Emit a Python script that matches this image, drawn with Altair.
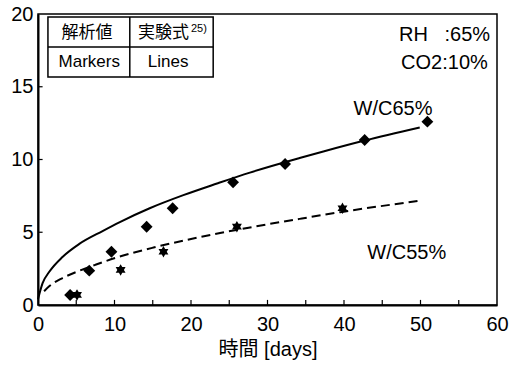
import altair as alt
import pandas as pd

# ---- data ----
# analysis values (markers)
wc65_days = [4.2, 6.7, 9.6, 14.2, 17.6, 25.5, 32.3, 42.7, 50.9]
wc65_vals = [0.69, 2.36, 3.66, 5.38, 6.65, 8.43, 9.69, 11.34, 12.6]
wc55_days = [5.1, 10.8, 16.4, 26.0, 39.8]
wc55_vals = [0.69, 2.41, 3.66, 5.38, 6.65]

# experimental formula (lines)
curve65_days = [0, 0.6, 1.5, 3.2, 5.4, 8.5, 10.7, 14.6, 19.0, 23.4, 27.7, 34.2, 37.3, 42.7, 49.9]
curve65_vals = [0.4, 1.5, 2.3, 3.3, 4.2, 5.1, 5.7, 6.65, 7.55, 8.35, 9.1, 10.1, 10.55, 11.3, 12.2]
curve55_days = [0.8, 1.5, 3.2, 5.4, 7.6, 10.2, 15.1, 19.4, 23.8, 27.7, 34.2, 39.5, 49.7]
curve55_vals = [0.95, 1.3, 1.85, 2.35, 2.78, 3.25, 3.95, 4.47, 4.95, 5.33, 5.92, 6.38, 7.15]

x_ticks = [0, 10, 20, 30, 40, 50, 60]
y_ticks = [0, 5, 10, 15, 20]
x_minor = [5, 10, 15, 20, 25, 30, 35, 40, 45, 50, 55]
y_minor = [5, 10, 15]

FONT = "Liberation Sans, Noto Sans CJK JP"

xs = alt.Scale(domain=[0, 60], nice=False, zero=False)
ys = alt.Scale(domain=[0, 20], nice=False, zero=False)

x_axis = alt.Axis(values=x_ticks, title="時間 [days]", format="d",
                  labelFont=FONT, labelFontSize=20, labelPadding=9,
                  titleFont=FONT, titleFontSize=20, titlePadding=5,
                  titleFontWeight="normal", labelColor="black", titleColor="black",
                  tickSize=0, domainColor="black", domainWidth=2, grid=False,
                  labelFlush=False, labelOverlap=False)
y_axis = alt.Axis(values=y_ticks, title="", format="d",
                  labelFont=FONT, labelFontSize=20, labelPadding=5,
                  labelColor="black",
                  tickSize=0, domainColor="black", domainWidth=2, grid=False,
                  labelFlush=False, labelOverlap=False)

def X(field):
    return alt.X(field, type="quantitative", scale=xs, axis=x_axis, title="時間 [days]")

def Y(field):
    return alt.Y(field, type="quantitative", scale=ys, axis=y_axis, title="")

df65 = pd.DataFrame({"t": wc65_days, "v": wc65_vals})
df55 = pd.DataFrame({"t": wc55_days, "v": wc55_vals})
dc65 = pd.DataFrame({"t": curve65_days, "v": curve65_vals})
dc55 = pd.DataFrame({"t": curve55_days, "v": curve55_vals})

line65 = alt.Chart(dc65).mark_line(color="black", strokeWidth=2, interpolate="monotone").encode(
    x=X("t:Q"), y=Y("v:Q"))
line55 = alt.Chart(dc55).mark_line(color="black", strokeWidth=2, strokeDash=[9, 5],
                                   interpolate="monotone").encode(
    x=X("t:Q"), y=Y("v:Q"))

pts65 = alt.Chart(df65).mark_point(shape="diamond", filled=True, color="black",
                                   size=140, opacity=1).encode(x=X("t:Q"), y=Y("v:Q"))
STAR = ("M0,-1L0.289,-0.5L0.866,-0.5L0.577,0L0.866,0.5L0.289,0.5L0,1L-0.289,0.5"
        "L-0.866,0.5L-0.577,0L-0.866,-0.5L-0.289,-0.5Z")
pts55 = alt.Chart(df55).mark_point(shape=STAR, filled=True, color="black",
                                   size=130, opacity=1).encode(x=X("t:Q"), y=Y("v:Q"))

# inward ticks
xt = pd.DataFrame({"t": x_minor, "y0": [0] * len(x_minor), "y1": [0.35] * len(x_minor)})
yt = pd.DataFrame({"v": y_minor, "x0": [0] * len(y_minor), "x1": [0.6] * len(y_minor)})
xticks = alt.Chart(xt).mark_rule(color="black", strokeWidth=1.2).encode(
    x=X("t:Q"), y=Y("y0:Q"), y2="y1:Q")
yticks = alt.Chart(yt).mark_rule(color="black", strokeWidth=1.2).encode(
    y=Y("v:Q"), x=X("x0:Q"), x2="x1:Q")

# legend table
box = pd.DataFrame({"x0": [1.3], "x1": [22.9], "y0": [15.67], "y1": [19.8]})
table = alt.Chart(box).mark_rect(fill="white", stroke="black", strokeWidth=1.5).encode(
    x=X("x0:Q"), x2="x1:Q", y=Y("y0:Q"), y2="y1:Q")
hline = alt.Chart(pd.DataFrame({"x0": [1.3], "x1": [22.9], "y": [17.73]})).mark_rule(
    color="black", strokeWidth=1.5).encode(x=X("x0:Q"), x2="x1:Q", y=Y("y:Q"))
vline = alt.Chart(pd.DataFrame({"x": [12.0], "y0": [15.67], "y1": [19.8]})).mark_rule(
    color="black", strokeWidth=1.5).encode(x=X("x:Q"), y=Y("y0:Q"), y2="y1:Q")

table_text = pd.DataFrame({
    "x": [6.4, 16.4, 6.7, 17.0],
    "y": [18.7, 18.7, 16.7, 16.7],
    "label": ["解析値", "実験式", "Markers", "Lines"],
})
ttext = alt.Chart(table_text).mark_text(font=FONT, fontSize=17, color="black",
                                        align="center", baseline="middle").encode(
    x=X("x:Q"), y=Y("y:Q"), text="label:N")
sup = alt.Chart(pd.DataFrame({"x": [20.0], "y": [19.0], "label": ["25)"]})).mark_text(
    font=FONT, fontSize=11, color="black", align="left", baseline="middle").encode(
    x=X("x:Q"), y=Y("y:Q"), text="label:N")

# annotations
right_text = pd.DataFrame({"x": [59.1, 58.8], "y": [18.56, 16.63],
                           "label": ["RH\u00a0\u00a0\u00a0:65%", "CO2:10%"]})
rtext = alt.Chart(right_text).mark_text(font=FONT, fontSize=20, color="black",
                                        align="right", baseline="middle").encode(
    x=X("x:Q"), y=Y("y:Q"), text="label:N")
series_text = pd.DataFrame({"x": [46.4, 48.2], "y": [13.5, 3.57],
                            "label": ["W/C65%", "W/C55%"]})
stext = alt.Chart(series_text).mark_text(font=FONT, fontSize=20, color="black",
                                         align="center", baseline="middle").encode(
    x=X("x:Q"), y=Y("y:Q"), text="label:N")

chart = alt.layer(xticks, yticks, line65, line55, pts65, pts55,
                  table, hline, vline, ttext, sup, rtext, stext).properties(
    width=459, height=291,
    autosize=alt.AutoSizeParams(type="none"),
    padding={"left": 38, "top": 14, "right": 24, "bottom": 60},
    background="white",
).configure_view(stroke="black", strokeWidth=1.5)

chart.save("out.html", embed_options={"renderer": "svg", "actions": False})
